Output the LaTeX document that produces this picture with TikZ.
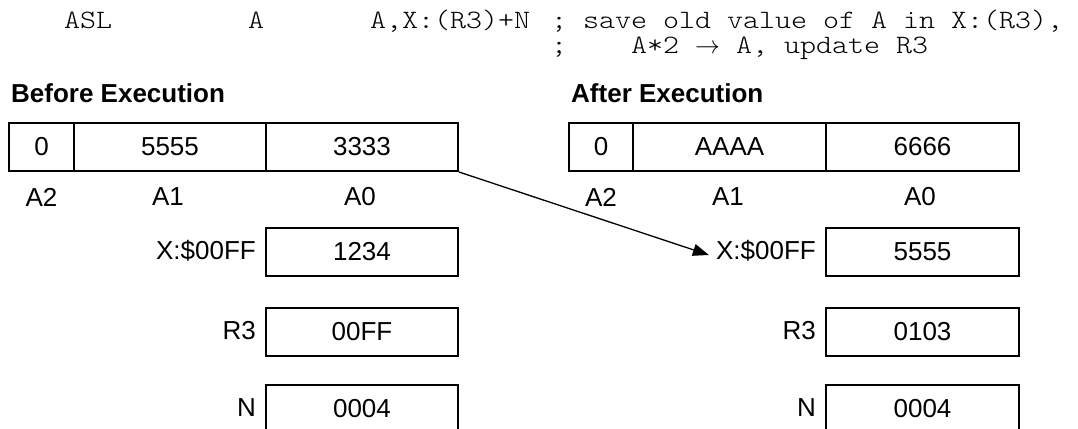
\documentclass[tikz,border=0pt]{standalone}
\usepackage{fontspec}
\setmainfont{Liberation Sans}
\newfontfamily\codefont{lmmonolt10-regular.otf}[FakeStretch=1.15]
\usetikzlibrary{arrows.meta}
\begin{document}
\begin{tikzpicture}[x=1pt,y=-1pt,
  cell/.style={draw,line width=2pt,inner sep=0pt,minimum height=48pt,font=\fontsize{26}{30}\selectfont},
  lbl/.style={inner sep=0pt,font=\fontsize{26}{30}\selectfont},
  code/.style={inner sep=0pt,anchor=base west,text height=17pt,text depth=4pt,font=\codefont\fontsize{26.5}{30}\selectfont\frenchspacing},
  head/.style={inner sep=0pt,anchor=base west,font=\bfseries\fontsize{26}{30}\selectfont},
  link/.style={line width=1.3pt,-{Triangle[length=16pt,width=12pt]}}]
\useasboundingbox (0,0) rectangle (1078,428);
% header code
\node[code] (op) at (64,29) {ASL};
\node[code] (src) at (248,29) {A};
\node[code] (dst) at (370,29) {A,X:(R3)+N};
\node[code] (c1) at (551,29) {; save old value of A in X:(R3),};
\node[code] (c2) at (551,54) {;\ \ \ \ A*2 $\rightarrow$ A, update R3};
% titles
\node[head] (tb) at (11,102) {Before Execution};
\node[head] (ta) at (571,102) {After Execution};
% before registers
\node[cell,minimum width=65pt] (a2L) at (41.5,147) {0};
\node[cell,minimum width=192pt] (a1L) at (170,147) {5555};
\node[cell,minimum width=192pt] (a0L) at (362,147) {3333};
\node[lbl] (la2L) at (41.5,197) {A2};
\node[lbl] (la1L) at (168,197) {A1};
\node[lbl] (la0L) at (360,197) {A0};
% after registers
\node[cell,minimum width=64pt] (a2R) at (601,147) {0};
\node[cell,minimum width=193pt] (a1R) at (729.5,147) {AAAA};
\node[cell,minimum width=193pt] (a0R) at (922.5,147) {6666};
\node[lbl] (la2R) at (601,197) {A2};
\node[lbl] (la1R) at (728,197) {A1};
\node[lbl] (la0R) at (920,197) {A0};
% before memory / regs
\node[cell,minimum width=192pt] (xL) at (362,252) {1234};
\node[cell,minimum width=192pt] (rL) at (362,332) {00FF};
\node[cell,minimum width=192pt] (nL) at (362,409) {0004};
\node[lbl,anchor=east] (xlabL) at ([xshift=-9pt,yshift=1pt]xL.west) {X:\$00FF};
\node[lbl,anchor=east] (rlabL) at ([xshift=-9pt,yshift=1pt]rL.west) {R3};
\node[lbl,anchor=east] (nlabL) at ([xshift=-9pt,yshift=1pt]nL.west) {N};
% after memory / regs
\node[cell,minimum width=193pt] (xR) at (922.5,252) {5555};
\node[cell,minimum width=193pt] (rR) at (922.5,332) {0103};
\node[cell,minimum width=193pt] (nR) at (922.5,409) {0004};
\node[lbl,anchor=east] (xlabR) at ([xshift=-9pt,yshift=1pt]xR.west) {X:\$00FF};
\node[lbl,anchor=east] (rlabR) at ([xshift=-9pt,yshift=1pt]rR.west) {R3};
\node[lbl,anchor=east] (nlabR) at ([xshift=-9pt,yshift=1pt]nR.west) {N};
% arrow
\draw[link] (a0L.south east) -- ([xshift=-7pt,yshift=-4pt]xlabR.west);
\end{tikzpicture}
\end{document}
